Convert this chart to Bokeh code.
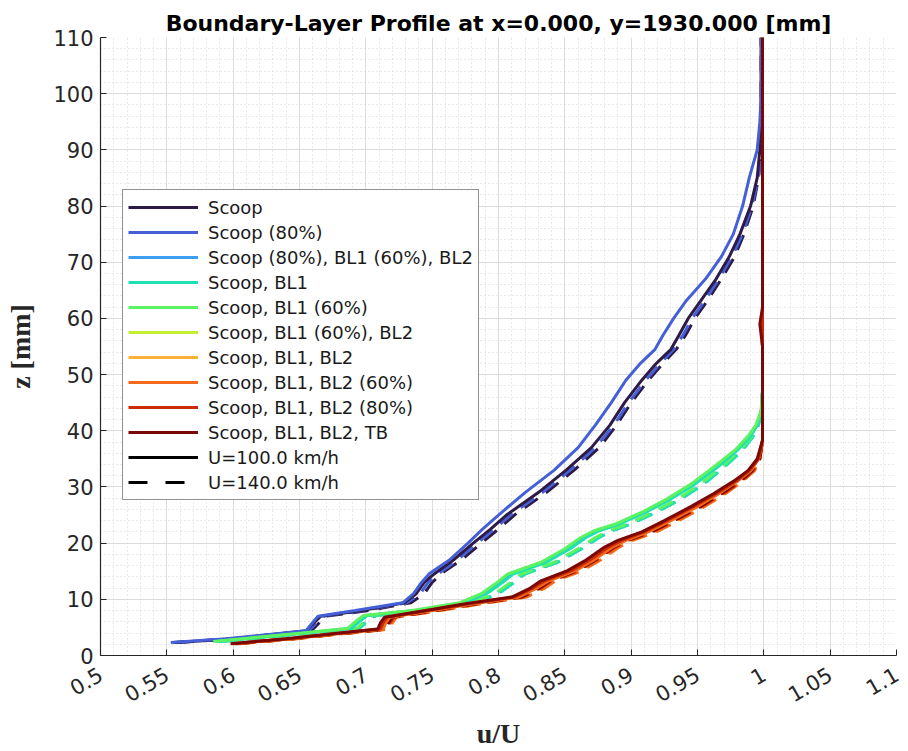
import math
from bokeh.plotting import figure
from bokeh.models import (ColumnDataSource, Legend, LegendItem, FixedTicker,
                          CustomJSTickFormatter)
from bokeh.embed import file_html
from bokeh.resources import INLINE

# ---------------- data ----------------
config_labels = [
    "Scoop", "Scoop (80%)", "Scoop (80%), BL1 (60%), BL2", "Scoop, BL1",
    "Scoop, BL1 (60%)", "Scoop, BL1 (60%), BL2", "Scoop, BL1, BL2",
    "Scoop, BL1, BL2 (60%)", "Scoop, BL1, BL2 (80%)", "Scoop, BL1, BL2, TB",
]
config_colors = ["#2e1a47", "#4560d6", "#3c9ef3", "#1ee0b4", "#5cf45e",
                 "#c6ee30", "#fbb038", "#f46a1c", "#cc2a04", "#7a0806"]
speed_labels = ["U=100.0 km/h", "U=140.0 km/h"]

x_ticks = [0.5, 0.55, 0.6, 0.65, 0.7, 0.75, 0.8, 0.85, 0.9, 0.95, 1.0, 1.05, 1.1]
y_ticks = [0, 10, 20, 30, 40, 50, 60, 70, 80, 90, 100, 110]

# group A: Scoop / Scoop (80%)
z_A = [2.3, 3.0, 4.4, 5.6, 7.0, 8.0, 9.4, 11.0, 13.0, 14.6, 17.0, 20.0, 22.5, 25.0,
       29.0, 33.0, 37.0, 41.0, 45.0, 49.0, 52.0, 54.5, 57.0, 60.0, 63.0, 67.0, 71.0,
       75.0, 80.0, 85.0, 90.0, 95.0, 100.0, 105.0, 110.0]
u_scoop_100 = [0.556, 0.600, 0.655, 0.660, 0.666, 0.697, 0.729, 0.738, 0.744, 0.752,
               0.766, 0.781, 0.794, 0.806, 0.830, 0.851, 0.870, 0.884, 0.895, 0.908,
               0.919, 0.930, 0.936, 0.943, 0.952, 0.964, 0.974, 0.982, 0.990, 0.995,
               0.997, 0.998, 0.998, 0.998, 0.998]
u_scoop_140 = [0.558, 0.603, 0.659, 0.664, 0.670, 0.702, 0.734, 0.744, 0.750, 0.757,
               0.772, 0.787, 0.800, 0.812, 0.836, 0.857, 0.876, 0.889, 0.900, 0.913,
               0.924, 0.934, 0.941, 0.948, 0.957, 0.968, 0.978, 0.985, 0.992, 0.996,
               0.998, 0.998, 0.998, 0.998, 0.998]
u_scoop80_100 = [0.553, 0.595, 0.655, 0.659, 0.664, 0.692, 0.728, 0.736, 0.742, 0.748,
                 0.763, 0.777, 0.788, 0.800, 0.820, 0.842, 0.860, 0.873, 0.885, 0.896,
                 0.907, 0.918, 0.924, 0.932, 0.941, 0.956, 0.968, 0.977, 0.984, 0.989,
                 0.995, 0.997, 0.998, 0.998, 0.998]
u_scoop80_140 = [0.555, 0.600, 0.657, 0.662, 0.668, 0.699, 0.731, 0.741, 0.747, 0.755,
                 0.769, 0.784, 0.797, 0.809, 0.833, 0.854, 0.873, 0.887, 0.898, 0.911,
                 0.922, 0.932, 0.939, 0.946, 0.955, 0.966, 0.976, 0.984, 0.991, 0.996,
                 0.998, 0.998, 0.998, 0.998, 0.998]

# group B: BL1 variants without full BL2
z_B = [2.5, 3.0, 4.0, 4.8, 6.0, 7.1, 8.0, 9.4, 11.0, 13.0, 14.5, 16.6, 19.0, 21.0,
       22.2, 23.4, 25.5, 27.6, 30.5, 33.5, 36.5, 39.0, 41.0, 43.5, 47.0, 55.0, 70.0,
       90.0, 110.0]
u_s80bl160bl2_100 = [0.587, 0.609, 0.654, 0.688, 0.694, 0.700, 0.737, 0.773, 0.789, 0.801,
                     0.809, 0.834, 0.852, 0.864, 0.874, 0.890, 0.910, 0.927, 0.947, 0.964,
                     0.979, 0.989, 0.995, 0.998, 0.999, 0.999, 0.999, 0.999, 0.999]
u_s80bl160bl2_140 = [0.591, 0.614, 0.660, 0.694, 0.700, 0.707, 0.746, 0.782, 0.799, 0.811,
                     0.819, 0.844, 0.862, 0.875, 0.885, 0.899, 0.918, 0.935, 0.954, 0.969,
                     0.983, 0.992, 0.996, 0.998, 0.999, 0.999, 0.999, 0.999, 0.999]
u_bl1_100 = [0.588, 0.610, 0.655, 0.689, 0.695, 0.701, 0.739, 0.775, 0.791, 0.803,
             0.811, 0.836, 0.854, 0.866, 0.876, 0.891, 0.911, 0.928, 0.948, 0.965,
             0.980, 0.990, 0.995, 0.998, 0.999, 0.999, 0.999, 0.999, 0.999]
u_bl1_140 = [0.592, 0.615, 0.661, 0.695, 0.701, 0.708, 0.747, 0.783, 0.800, 0.812,
             0.820, 0.845, 0.863, 0.876, 0.886, 0.900, 0.919, 0.936, 0.955, 0.970,
             0.984, 0.992, 0.996, 0.998, 0.999, 0.999, 0.999, 0.999, 0.999]
u_bl160_100 = [0.585, 0.607, 0.652, 0.686, 0.692, 0.698, 0.735, 0.771, 0.787, 0.799,
               0.807, 0.832, 0.850, 0.862, 0.872, 0.888, 0.908, 0.925, 0.945, 0.962,
               0.978, 0.988, 0.994, 0.998, 0.999, 0.999, 0.999, 0.999, 0.999]
u_bl160_140 = [0.590, 0.613, 0.659, 0.693, 0.699, 0.705, 0.744, 0.780, 0.797, 0.809,
               0.817, 0.842, 0.860, 0.873, 0.883, 0.897, 0.916, 0.933, 0.952, 0.968,
               0.982, 0.991, 0.995, 0.998, 0.999, 0.999, 0.999, 0.999, 0.999]

# group C: BL1 + BL2 variants
z_C = [2.1, 3.0, 4.0, 4.7, 5.8, 6.8, 8.0, 9.2, 10.4, 12.0, 13.3, 15.1, 17.0, 19.3,
       20.5, 22.0, 24.0, 26.5, 28.8, 31.0, 32.9, 35.0, 38.3, 45.0, 55.0, 59.0, 62.0,
       80.0, 110.0]
u_bl160bl2_100 = [0.599, 0.641, 0.681, 0.710, 0.712, 0.715, 0.746, 0.776, 0.811, 0.825,
                  0.833, 0.853, 0.867, 0.881, 0.891, 0.909, 0.926, 0.946, 0.963, 0.978,
                  0.989, 0.995, 0.999, 0.999, 0.999, 0.999, 0.999, 0.999, 0.999]
u_bl160bl2_140 = [0.603, 0.645, 0.686, 0.715, 0.717, 0.720, 0.752, 0.782, 0.816, 0.830,
                  0.838, 0.858, 0.872, 0.886, 0.896, 0.914, 0.931, 0.951, 0.967, 0.982,
                  0.991, 0.997, 0.999, 0.999, 0.999, 0.999, 0.999, 0.999, 0.999]
u_bl1bl2_100 = [0.600, 0.643, 0.683, 0.712, 0.714, 0.717, 0.749, 0.780, 0.814, 0.828,
                0.837, 0.857, 0.871, 0.885, 0.895, 0.912, 0.929, 0.949, 0.965, 0.979,
                0.990, 0.996, 0.999, 0.999, 0.999, 0.999, 0.999, 0.999, 0.999]
u_bl1bl2_140 = [0.604, 0.647, 0.688, 0.717, 0.719, 0.722, 0.755, 0.786, 0.820, 0.834,
                0.842, 0.862, 0.876, 0.890, 0.900, 0.918, 0.935, 0.954, 0.970, 0.984,
                0.992, 0.997, 0.999, 0.999, 0.999, 0.999, 0.999, 0.999, 0.999]
u_bl2_60_100 = [0.601, 0.644, 0.684, 0.713, 0.715, 0.718, 0.750, 0.781, 0.815, 0.829,
                0.838, 0.858, 0.872, 0.886, 0.896, 0.913, 0.930, 0.950, 0.966, 0.980,
                0.990, 0.996, 0.999, 0.999, 0.999, 0.999, 0.999, 0.999, 0.999]
u_bl2_60_140 = [0.605, 0.648, 0.689, 0.718, 0.720, 0.723, 0.756, 0.787, 0.821, 0.835,
                0.843, 0.863, 0.877, 0.891, 0.901, 0.919, 0.936, 0.955, 0.971, 0.984,
                0.993, 0.997, 0.999, 0.999, 0.999, 0.999, 0.999, 0.999, 0.999]
u_bl2_80_100 = [0.600, 0.642, 0.682, 0.711, 0.713, 0.716, 0.747, 0.778, 0.812, 0.826,
                0.835, 0.855, 0.869, 0.883, 0.893, 0.910, 0.927, 0.947, 0.964, 0.979,
                0.989, 0.996, 0.999, 0.999, 0.999, 0.999, 0.999, 0.999, 0.999]
u_bl2_80_140 = [0.603, 0.646, 0.687, 0.716, 0.718, 0.721, 0.753, 0.784, 0.818, 0.832,
                0.840, 0.860, 0.874, 0.888, 0.898, 0.916, 0.933, 0.953, 0.969, 0.983,
                0.992, 0.997, 0.999, 0.999, 0.999, 0.999, 0.999, 0.999, 0.999]
u_tb_100 = [0.598, 0.640, 0.680, 0.709, 0.711, 0.714, 0.745, 0.775, 0.810, 0.824,
            0.832, 0.852, 0.866, 0.880, 0.890, 0.908, 0.925, 0.945, 0.962, 0.977,
            0.988, 0.995, 0.999, 0.999, 0.999, 0.997, 0.999, 0.999, 0.999]
u_tb_140 = [0.602, 0.645, 0.686, 0.715, 0.717, 0.720, 0.752, 0.783, 0.817, 0.831,
            0.839, 0.859, 0.873, 0.887, 0.897, 0.915, 0.932, 0.952, 0.968, 0.982,
            0.991, 0.997, 0.999, 0.999, 0.999, 0.998, 0.999, 0.999, 0.999]

curves = [  # (z, u at 100 km/h, u at 140 km/h) per configuration, legend order
    (z_A, u_scoop_100, u_scoop_140),
    (z_A, u_scoop80_100, u_scoop80_140),
    (z_B, u_s80bl160bl2_100, u_s80bl160bl2_140),
    (z_B, u_bl1_100, u_bl1_140),
    (z_B, u_bl160_100, u_bl160_140),
    (z_C, u_bl160bl2_100, u_bl160bl2_140),
    (z_C, u_bl1bl2_100, u_bl1bl2_140),
    (z_C, u_bl2_60_100, u_bl2_60_140),
    (z_C, u_bl2_80_100, u_bl2_80_140),
    (z_C, u_tb_100, u_tb_140),
]

# ---------------- figure ----------------
SANS = "DejaVu Sans"
p = figure(width=908, height=751, x_range=(0.5, 1.1), y_range=(0, 110),
           output_backend="svg", toolbar_location=None,
           min_border_left=100, min_border_right=12, min_border_top=37,
           min_border_bottom=96,
           title="Boundary-Layer Profile at x=0.000, y=1930.000 [mm]")
p.background_fill_color = "white"
p.border_fill_color = "white"
p.outline_line_color = None

p.title.align = "center"
p.title.text_font = SANS
p.title.text_font_size = "22px"
p.title.text_font_style = "bold"
p.title.text_color = "#000000"
p.title.standoff = 4

LW = 3
DASH = "16 10"
for i, (z, u100, u140) in enumerate(curves):
    p.line(x=u140, y=z, line_color=config_colors[i], line_width=LW, line_dash=DASH)
solid = []
for i, (z, u100, u140) in enumerate(curves):
    solid.append(p.line(x=u100, y=z, line_color=config_colors[i], line_width=LW))

# legend-only renderers (no visible data)
nan_src = ColumnDataSource(data=dict(x=[float("nan")], y=[float("nan")]))
r_u100 = p.line(x="x", y="y", source=nan_src, line_color="black", line_width=LW)
r_u140 = p.line(x="x", y="y", source=nan_src, line_color="black", line_width=LW,
                line_dash="19 18")

items = [LegendItem(label=config_labels[i], renderers=[solid[i]]) for i in range(10)]
items.append(LegendItem(label=speed_labels[0], renderers=[r_u100]))
items.append(LegendItem(label=speed_labels[1], renderers=[r_u140]))
legend = Legend(items=items, location=(22, 155))
legend.label_text_font = SANS
legend.label_text_font_size = "18px"
legend.label_text_color = "#1a1a1a"
legend.glyph_width = 70
legend.glyph_height = 24
legend.label_height = 24
legend.label_standoff = 10
legend.spacing = 1
legend.padding = 5
legend.margin = 0
legend.border_line_color = "#262626"
legend.border_line_width = 1
legend.background_fill_color = "white"
legend.background_fill_alpha = 1.0
p.add_layout(legend, "center")

# axes
p.xaxis.ticker = FixedTicker(ticks=x_ticks,
                             minor_ticks=[round(0.5 + 0.01 * k, 2) for k in range(61)])
p.yaxis.ticker = FixedTicker(ticks=y_ticks, minor_ticks=list(range(0, 111, 2)))
p.xaxis.formatter = CustomJSTickFormatter(code="return String(Math.round(tick*100)/100);")
p.xaxis.major_label_orientation = math.radians(30)

for ax in (p.xaxis[0], p.yaxis[0]):
    ax.axis_line_color = "#262626"
    ax.axis_line_width = 1.2
    ax.major_tick_line_color = "#262626"
    ax.major_tick_in = 6
    ax.major_tick_out = 0
    ax.minor_tick_in = 0
    ax.minor_tick_out = 0
    ax.major_label_text_font = SANS
    ax.major_label_text_font_size = "21px"
    ax.major_label_text_color = "#262626"
    ax.axis_label_text_font = "Liberation Serif"
    ax.axis_label_text_font_style = "bold"
    ax.axis_label_text_font_size = "28px"
    ax.axis_label_text_color = "#262626"

p.xaxis.axis_label = "u/U"
p.yaxis.axis_label = "z [mm]"
p.xaxis.major_label_standoff = 17
p.yaxis.major_label_standoff = 7
p.xaxis.axis_label_standoff = 5
p.yaxis.axis_label_standoff = 14

p.xgrid.grid_line_color = "#dcdcdc"
p.ygrid.grid_line_color = "#dcdcdc"
p.xgrid.minor_grid_line_color = "#d2d2d2"
p.ygrid.minor_grid_line_color = "#d2d2d2"
p.xgrid.minor_grid_line_dash = "1 3"
p.ygrid.minor_grid_line_dash = "1 3"

open("out.html", "w").write(file_html(p, INLINE))
